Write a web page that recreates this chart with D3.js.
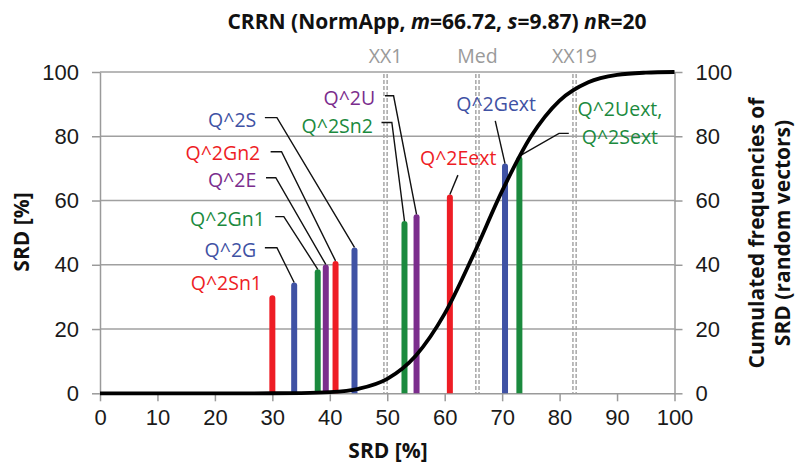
<!DOCTYPE html>
<meta charset="utf-8">
<title>CRRN</title>
<style>
  body { margin: 0; background: #fff; }
  svg { display: block; }
  text { font-family: "Open Sans", sans-serif; }
  .tick text { font-family: "Liberation Sans", Arial, sans-serif; font-size: 22px; fill: #1a1a1a; }
  .tick line, .domain { stroke: #9a9a9a; stroke-width: 1.5; }
</style>
<body>
<div id="viz"></div>
<script src="https://cdnjs.cloudflare.com/ajax/libs/d3/7.8.5/d3.min.js"></script>
<script>

var width = 798;
var height = 466;

// items (bars)
const categories = ["Q^2Sn1", "Q^2G", "Q^2Gn1", "Q^2E", "Q^2Gn2", "Q^2S",
                    "Q^2Sn2", "Q^2U", "Q^2Eext", "Q^2Gext", "Q^2Uext,|Q^2Sext"];
const srdPos = [30.0, 33.8, 37.9, 39.3, 41.0, 44.3, 53.0, 55.1, 60.9, 70.5, 73.0];
const srdVal = [30.5, 34.5, 38.6, 40.1, 41.2, 45.4, 53.6, 55.7, 61.9, 71.5, 73.8];
const barColors = ["#ee1d25", "#3f52a4", "#1b8a3e", "#7b2d8d", "#ee1d25", "#3f52a4",
                   "#1b8a3e", "#7b2d8d", "#ee1d25", "#3f52a4", "#1b8a3e"];

// reference lines
const refNames = ["XX1", "Med", "XX19"];
const refPos = [49.7, 65.7, 82.6];

// cumulated frequencies (random vectors)
const cumX = [0, 5, 10, 15, 20, 25, 30, 35, 40, 45, 50, 55, 60, 65, 70, 75, 80, 85, 90, 95, 100];
const cumY = [0, 0, 0, 0, 0, 0, 0.01, 0.07, 0.34, 1.4, 4.5, 11.8, 24.8, 43.1, 63.0, 79.9, 91.1, 96.8, 99.1, 99.8, 100];

const xTicks = [0, 10, 20, 30, 40, 50, 60, 70, 80, 90, 100];
const yTicks = [0, 20, 40, 60, 80, 100];

// label placement, in data units: text end / center, leader elbow (h0 -> h1 at hy)
const labelLayout = [
  { tx: 28.2, ty: 34.3 },
  { tx: 27.2, ty: 44.4, h0: 28.7, h1: 30.8, hy: 45.3 },
  { tx: 28.7, ty: 54.2, h0: 30.5, h1: 32.0, hy: 55.0 },
  { tx: 27.2, ty: 66.4, h0: 28.9, h1: 30.6, hy: 67.1 },
  { tx: 27.9, ty: 74.8, h0: 29.7, h1: 31.6, hy: 75.2 },
  { tx: 27.2, ty: 85.1, h0: 28.7, h1: 30.8, hy: 85.8 },
  { tx: 47.5, ty: 83.0, h0: 49.0, h1: 50.8, hy: 84.3 },
  { tx: 47.9, ty: 91.8, h0: 49.6, h1: 51.1, hy: 92.6 },
  { tx: 69.0, ty: 73.1, h0: 62.3, h1: 62.3, hy: 67.9 },
  { tx: 75.9, ty: 89.9, h0: 68.8, h1: 68.8, hy: 84.8 },
  { tx: 90.5, ty: 84.0, h0: 81.6, h1: 79.9, hy: 80.9, center: true }
];

var x = d3.scaleLinear().domain([0, 100]).range([100, 674.5]);
var y = d3.scaleLinear().domain([0, 100]).range([393.3, 72]);

var svg = d3.select("#viz")
  .append("svg")
  .attr("width", width)
  .attr("height", height);

// title
var title = svg.append("text")
  .attr("x", 437)
  .attr("y", 29)
  .attr("text-anchor", "middle")
  .attr("font-weight", "bold")
  .attr("font-size", 21)
  .attr("fill", "#111");
title.append("tspan").text("CRRN (NormApp, ");
title.append("tspan").attr("font-style", "italic").text("m");
title.append("tspan").text("=66.72, ");
title.append("tspan").attr("font-style", "italic").text("s");
title.append("tspan").text("=9.87) ");
title.append("tspan").attr("font-style", "italic").text("n");
title.append("tspan").text("R=20");

// grid
svg.append("g")
  .selectAll("line")
  .data(yTicks.filter(d => d > 0))
  .join("line")
  .attr("x1", x(0)).attr("x2", x(100))
  .attr("y1", d => y(d)).attr("y2", d => y(d))
  .attr("stroke", "#a0a0a0")
  .attr("stroke-width", 1.5);

// axes
svg.append("g")
  .attr("transform", `translate(0,${y(0)})`)
  .call(d3.axisBottom(x).tickValues(xTicks).tickSize(8).tickPadding(8).tickSizeOuter(0));

svg.append("g")
  .attr("transform", `translate(${x(0)},0)`)
  .call(d3.axisLeft(y).tickValues(yTicks).tickSize(8).tickPadding(13).tickSizeOuter(0));

svg.append("g")
  .attr("transform", `translate(${x(100)},0)`)
  .call(d3.axisRight(y).tickValues(yTicks).tickSize(8).tickPadding(13).tickSizeOuter(0));

svg.selectAll(".tick text").attr("fill", "#1a1a1a");

// reference lines (double dashed)
var refs = svg.append("g");
refPos.forEach(function(p, i) {
  [-1.6, 1.6].forEach(function(off) {
    refs.append("line")
      .attr("x1", x(p) + off).attr("x2", x(p) + off)
      .attr("y1", y(100) + 2).attr("y2", y(0))
      .attr("stroke", "#a0a0a0")
      .attr("stroke-width", 1.4)
      .attr("stroke-dasharray", "4,2");
  });
  refs.append("text")
    .attr("x", x(p))
    .attr("y", 63)
    .attr("text-anchor", "middle")
    .attr("font-size", 19.5)
    .attr("fill", "#9a9a9a")
    .text(refNames[i]);
});

// bars
svg.append("g")
  .selectAll("path")
  .data(srdPos)
  .join("path")
  .attr("d", function(d, i) {
    var cx = x(d), top = y(srdVal[i]), b = y(0);
    return `M${cx - 3},${b} V${top + 3} A3,3 0 0 1 ${cx + 3},${top + 3} V${b} Z`;
  })
  .attr("fill", (d, i) => barColors[i]);

// leader lines
var leaders = svg.append("g");
labelLayout.forEach(function(l, i) {
  if (l.h0 === undefined) return;
  var pts = [[x(l.h0), y(l.hy)], [x(l.h1), y(l.hy)], [x(srdPos[i]), y(srdVal[i])]];
  leaders.append("path")
    .attr("d", d3.line()(pts))
    .attr("fill", "none")
    .attr("stroke", "#111")
    .attr("stroke-width", 1.4);
});

// cumulated curve
svg.append("path")
  .datum(cumX)
  .attr("d", d3.line()
    .x(d => x(d))
    .y((d, i) => y(cumY[i]))
    .curve(d3.curveMonotoneX))
  .attr("fill", "none")
  .attr("stroke", "#000")
  .attr("stroke-width", 3.8);

// labels
var labels = svg.append("g");
labelLayout.forEach(function(l, i) {
  var lines = categories[i].split("|");
  var t = labels.append("text")
    .attr("text-anchor", l.center ? "middle" : "end")
    .attr("font-size", 19.5)
    .attr("fill", barColors[i]);
  lines.forEach(function(s, j) {
    t.append("tspan")
      .attr("x", x(l.tx))
      .attr("y", y(l.ty) + (j - (lines.length - 1) / 2) * 28)
      .attr("dy", "0.35em")
      .text(s);
  });
});

// axis titles
svg.append("text")
  .attr("x", 388).attr("y", 458)
  .attr("text-anchor", "middle")
  .attr("font-weight", "bold").attr("font-size", 21)
  .attr("fill", "#111")
  .text("SRD [%]");

svg.append("text")
  .attr("transform", "translate(22,232) rotate(-90)")
  .attr("dy", "0.35em")
  .attr("text-anchor", "middle")
  .attr("font-weight", "bold").attr("font-size", 21)
  .attr("fill", "#111")
  .text("SRD [%]");

var rt = svg.append("text")
  .attr("transform", "translate(770,233) rotate(-90)")
  .attr("text-anchor", "middle")
  .attr("font-weight", "bold").attr("font-size", 21)
  .attr("fill", "#111");
rt.append("tspan").attr("x", 0).attr("y", -13).attr("dy", "0.35em").text("Cumulated frequencies of");
rt.append("tspan").attr("x", 0).attr("y", 13).attr("dy", "0.35em").text("SRD (random vectors)");

</script>
</body>
